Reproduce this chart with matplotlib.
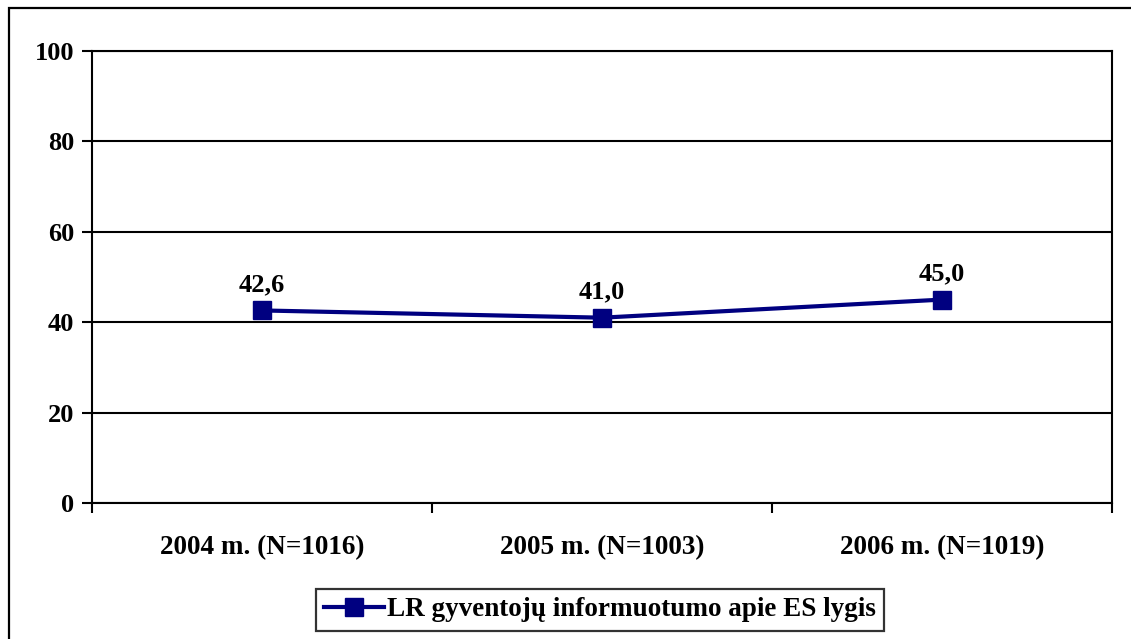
import matplotlib.pyplot as plt
from matplotlib.patches import Rectangle

categories = ['2004 m. (N=1016)', '2005 m. (N=1003)', '2006 m. (N=1019)']
values = [42.6, 41.0, 45.0]
value_labels = ['42,6', '41,0', '45,0']
series_name = 'LR gyventojų informuotumo apie ES lygis'
yticks = [0, 20, 40, 60, 80, 100]

plt.rcParams['font.family'] = ['Liberation Serif', 'DejaVu Serif']
plt.rcParams['font.weight'] = 'bold'

W, H = 1131, 639
fig = plt.figure(figsize=(W / 100, H / 100), dpi=100)
ax = fig.add_axes([92 / W, 1 - 503 / H, (1112 - 92) / W, (503 - 51) / H])

# outer chart border (runs off the right and bottom edges)
fig.patches.append(Rectangle((9 / W, -0.05), 1.1, 1 - 8 / H + 0.05,
                             transform=fig.transFigure, fill=False,
                             edgecolor='black', linewidth=1.6))

x = list(range(len(categories)))
ax.plot(x, values, color='#000080', linewidth=3, marker='s', markersize=12.5,
        label=series_name, zorder=3)
for xi, v, t in zip(x, values, value_labels):
    ax.annotate(t, (xi, v), xytext=(0, 10), textcoords='offset points',
                ha='center', va='bottom', fontsize=19, fontweight='bold')

ax.set_xlim(-0.5, 2.5)
ax.set_ylim(0, 100)
ax.set_yticks(yticks)
ax.yaxis.grid(True, color='black', linewidth=1.5)
ax.set_axisbelow(True)
for s in ax.spines.values():
    s.set_linewidth(1.5)
    s.set_color('black')

ax.set_xticks(x)
ax.set_xticklabels(categories, fontsize=19.5, fontweight='bold')
ax.set_xticks([-0.5, 0.5, 1.5, 2.5], minor=True)
ax.tick_params(axis='x', which='major', length=0, pad=23)
ax.tick_params(axis='x', which='minor', length=7, width=1.5, direction='out')
ax.tick_params(axis='y', length=7, width=1.5, direction='out', labelsize=19, pad=6)
for lbl in ax.get_yticklabels():
    lbl.set_fontweight('bold')

leg = fig.legend(loc='center', bbox_to_anchor=(600 / W, 1 - 610 / H),
                 frameon=True, fancybox=False, edgecolor='black',
                 prop={'size': 19.5, 'weight': 'bold'}, handlelength=2.2,
                 handletextpad=0.1, borderpad=0.3)
leg.get_frame().set_linewidth(1.6)

fig.savefig('out.png', dpi=100)
